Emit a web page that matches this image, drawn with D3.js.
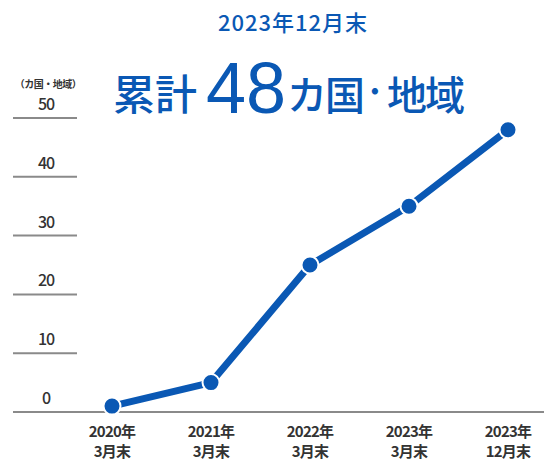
<!DOCTYPE html>
<html>
<head>
<meta charset="utf-8">
<script src="https://cdn.jsdelivr.net/npm/d3@7"></script>
<style>
  body { margin: 0; background: #fff; }
  text { font-family: "Noto Sans CJK JP", "Noto Sans", sans-serif; }
</style>
</head>
<body>
<div id="chart"></div>
<script>
// data
var years = ['2020年', '2021年', '2022年', '2023年', '2023年'];
var months = ['3月末', '3月末', '3月末', '3月末', '12月末'];
var counts = [1, 5, 25, 35, 48];
var yTicks = [0, 10, 20, 30, 40, 50];

var width = 544, height = 461;
var blue = '#0a58b4';

var svg = d3.select('#chart')
  .append('svg')
    .attr('width', width)
    .attr('height', height);

var x = d3.scalePoint()
  .domain(d3.range(counts.length))
  .range([112, 508]);

var y = d3.scaleLinear()
  .domain([0, 50])
  .range([412, 118]);

// title
svg.append('text')
  .attr('x', 293).attr('y', 31)
  .attr('text-anchor', 'middle')
  .attr('font-size', '22px')
  .attr('font-weight', 500)
  .attr('fill', blue)
  .attr('letter-spacing', '1px')
  .text('2023年12月末');

// big headline, pieces placed one by one
var head = svg.append('g')
  .attr('fill', blue)
  .attr('font-weight', 500);
head.append('text').attr('x', 113).attr('y', 110)
  .attr('font-size', '42px').text('累計');
head.append('text').attr('x', 206).attr('y', 113)
  .attr('font-size', '72px').attr('font-weight', 400)
  .style('font-family', '"Liberation Sans", Arial, sans-serif')
  .text('48');
head.append('text').attr('x', 287).attr('y', 110)
  .attr('font-size', '40px').attr('letter-spacing', '-2px').text('カ国');
head.append('text').attr('x', 375).attr('y', 106)
  .attr('text-anchor', 'middle')
  .attr('font-size', '40px').text('·');
head.append('text').attr('x', 387).attr('y', 110)
  .attr('font-size', '40px').attr('letter-spacing', '-2px').text('地域');

// unit label
svg.append('text')
  .attr('x', 48).attr('y', 88)
  .attr('text-anchor', 'middle')
  .attr('font-size', '10px')
  .attr('font-weight', 700)
  .attr('fill', '#333')
  .attr('letter-spacing', '-0.5px')
  .text('（カ国・地域）');

// gridlines and tick labels
svg.append('g')
  .selectAll('line')
  .data(yTicks)
  .enter()
  .append('line')
    .attr('x1', 13)
    .attr('x2', d => d === 0 ? 544 : 77)
    .attr('y1', d => y(d))
    .attr('y2', d => y(d))
    .attr('stroke', '#8a8a8a')
    .attr('stroke-width', 2);

svg.append('g')
  .selectAll('text')
  .data(yTicks)
  .enter()
  .append('text')
    .attr('x', 46)
    .attr('y', d => y(d) - 8)
    .attr('text-anchor', 'middle')
    .attr('font-size', '16px')
    .attr('font-weight', 500)
    .attr('fill', '#333')
    .attr('letter-spacing', '-1px')
    .text(d => d);

// x labels
var xl = svg.append('g')
  .selectAll('text')
  .data(counts)
  .enter()
  .append('text')
    .attr('text-anchor', 'middle')
    .attr('font-size', '15px')
    .attr('font-weight', 700)
    .attr('fill', '#333')
    .attr('letter-spacing', '-0.8px');
xl.append('tspan')
  .attr('x', (d, i) => x(i))
  .attr('y', 437)
  .text((d, i) => years[i]);
xl.append('tspan')
  .attr('x', (d, i) => x(i))
  .attr('y', 457)
  .text((d, i) => months[i]);

// line
var line = d3.line()
  .x((d, i) => x(i))
  .y(d => y(d));

svg.append('path')
  .datum(counts)
  .attr('d', line)
  .attr('fill', 'none')
  .attr('stroke', blue)
  .attr('stroke-width', 7);

svg.append('g')
  .selectAll('circle')
  .data(counts)
  .enter()
  .append('circle')
    .attr('cx', (d, i) => x(i))
    .attr('cy', d => y(d))
    .attr('r', 8.5)
    .attr('fill', blue)
    .attr('stroke', '#fff')
    .attr('stroke-width', 2);
</script>
</body>
</html>
